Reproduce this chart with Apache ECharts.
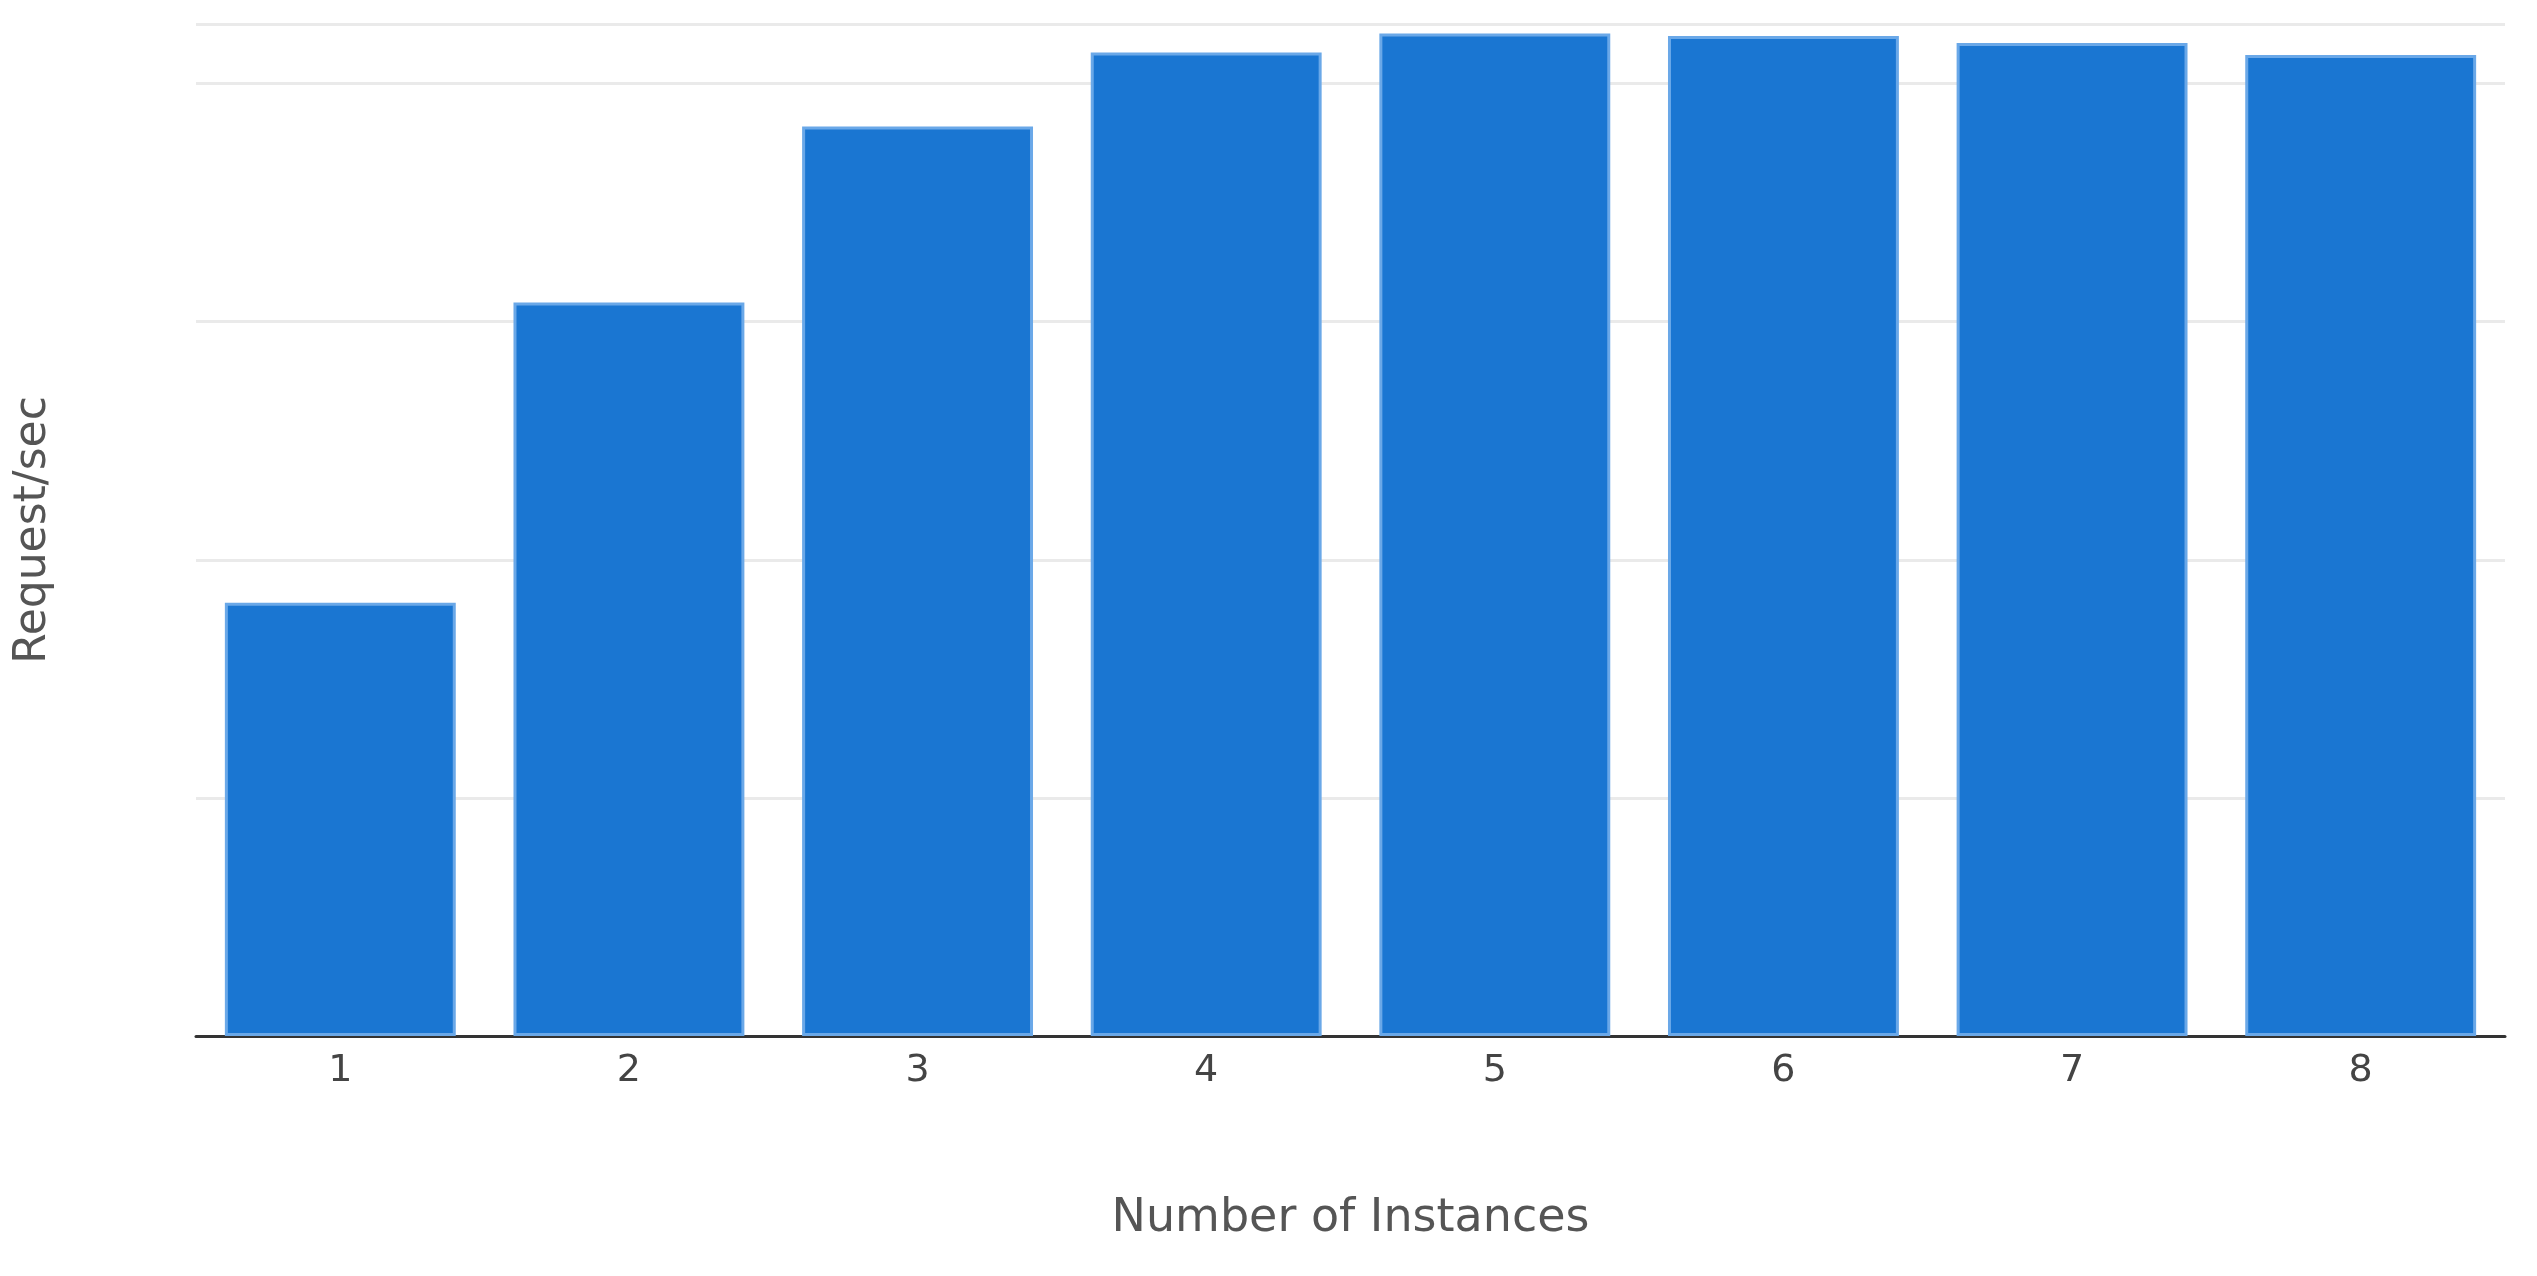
<!DOCTYPE html>
<html lang="en">
<head>
    <meta charset="UTF-8">
    <title>Request/sec by instances</title>
    <script src="https://cdn.jsdelivr.net/npm/echarts@6/dist/echarts.min.js"></script>
</head>
<body style="margin:0;background:#fff;">
    <div id="main" style="width:2537px;height:1276px;"></div>
    <script type="text/javascript">
        // values in gridline units (no y tick labels shown in the original)
        const categories = ['1', '2', '3', '4', '5', '6', '7', '8'];
        const requestsPerSec = [1.82, 3.08, 3.82, 4.13, 4.21, 4.20, 4.17, 4.12];

        let myChart = echarts.init(document.getElementById('main'));
        myChart.setOption({
            animation: false,
            textStyle: { fontFamily: 'DejaVu Sans' },
            grid: { left: 196, right: 32, top: 24, bottom: 240 },
            xAxis: {
                type: 'category',
                data: categories,
                name: 'Number of Instances',
                nameLocation: 'middle',
                nameGap: 160,
                nameTextStyle: { fontSize: 46, color: '#555' },
                axisLine: { lineStyle: { color: '#333', width: 3 } },
                axisTick: { show: false },
                axisLabel: { fontSize: 38, color: '#444', margin: 16 }
            },
            yAxis: {
                type: 'value',
                min: 0,
                max: 4.25,
                interval: 1,
                name: 'Request/sec',
                nameLocation: 'middle',
                nameGap: 140,
                nameTextStyle: { fontSize: 44, color: '#555' },
                axisLabel: { show: false },
                axisLine: { show: false },
                splitLine: { lineStyle: { color: '#eaeaea', width: 3 } }
            },
            series: [{
                type: 'bar',
                data: requestsPerSec,
                barCategoryGap: '20%',
                itemStyle: { color: '#1a76d2', borderColor: '#6aa8e8', borderWidth: 3 }
            }]
        });
    </script>
</body>
</html>
